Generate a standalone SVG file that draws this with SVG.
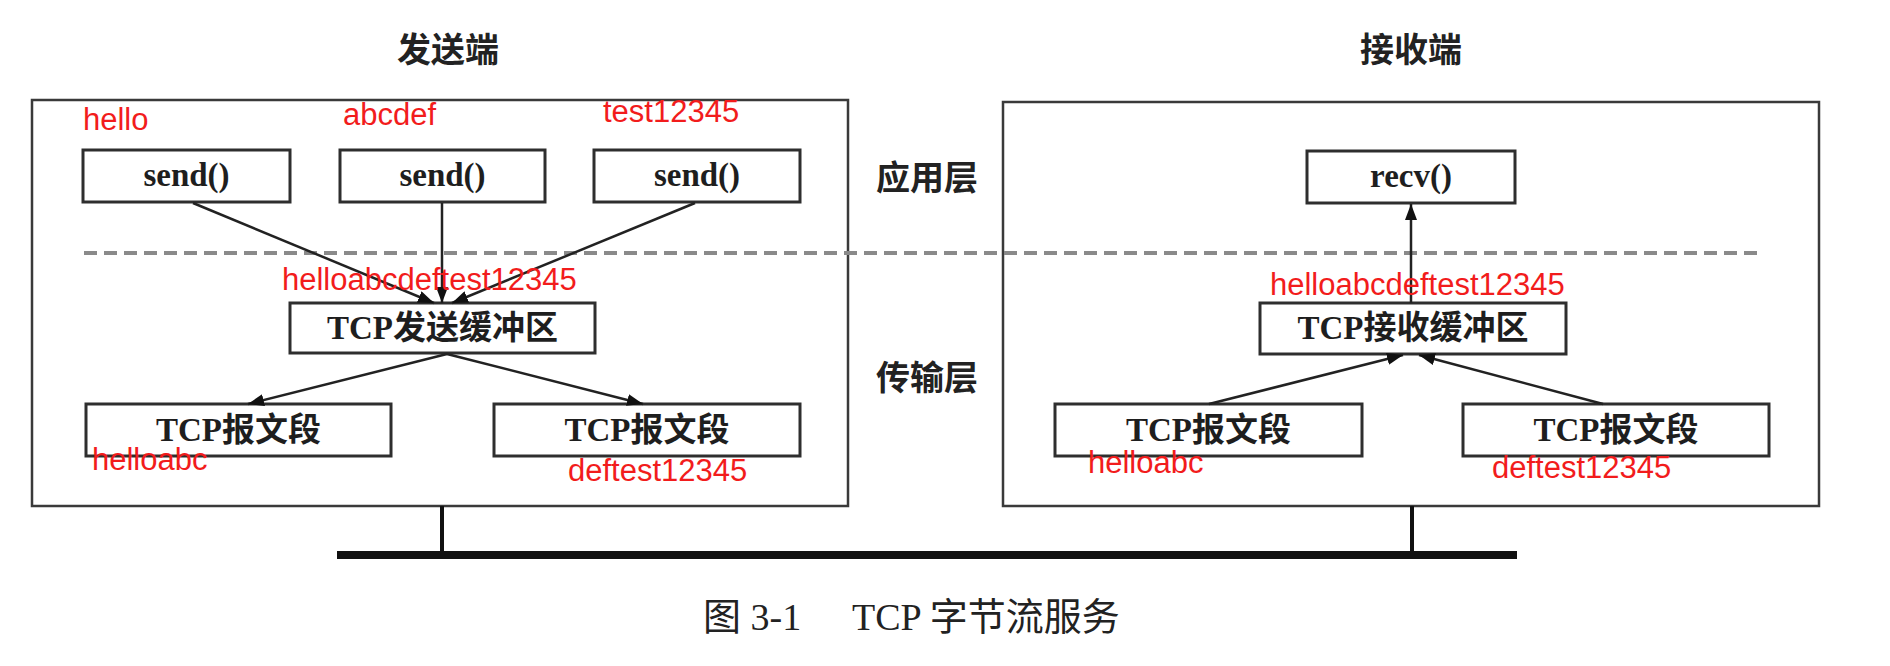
<svg xmlns="http://www.w3.org/2000/svg" width="1890" height="666" viewBox="0 0 1890 666">
<style>
.frame{fill:none;stroke:#3a3a3a;stroke-width:2.5}
.box{fill:#fff;stroke:#2e2e2e;stroke-width:3}
.lbl{font-family:"Liberation Serif","Noto Sans CJK SC",serif;font-weight:bold;fill:#1e1e1e;text-anchor:middle}
.title{font-family:"Liberation Serif","Noto Sans CJK SC",serif;font-weight:bold;font-size:34px;fill:#222;text-anchor:middle}
.cap{font-family:"Liberation Serif","Noto Sans CJK SC",serif;font-size:38px;fill:#222}
.red{font-family:"Liberation Sans",Arial,sans-serif;font-size:31px;fill:#f21c1c}
.conn{stroke:#222;stroke-width:2.5;fill:none}
.dash{stroke:#8a8a8a;stroke-width:4;stroke-dasharray:13 7;fill:none}
.bus{stroke:#111;fill:none}
</style>
<defs>
<marker id="ah" markerUnits="userSpaceOnUse" markerWidth="18" markerHeight="12" refX="16" refY="6" orient="auto">
<path d="M0,0 L16,6 L0,12 z" fill="#111"/>
</marker>
</defs>
<rect width="1890" height="666" fill="#fff"/>

<g id="sender-frame">
<rect class="frame" x="32" y="100" width="816" height="406"/>
<text class="title" x="448" y="62">发送端</text>
</g>
<g id="receiver-frame">
<rect class="frame" x="1003" y="102" width="816" height="404"/>
<text class="title" x="1411" y="62">接收端</text>
</g>

<g id="layer-labels">
<text class="title" x="927" y="190">应用层</text>
<text class="title" x="927" y="390">传输层</text>
<line class="dash" x1="84" y1="253" x2="1764" y2="253"/>
</g>

<g id="send1">
<rect class="box" x="83" y="150" width="207" height="52"/>
<text class="lbl" x="186.5" y="186" font-size="33">send()</text>
<text class="red" x="83" y="130">hello</text>
</g>
<g id="send2">
<rect class="box" x="340" y="150" width="205" height="52"/>
<text class="lbl" x="442.5" y="186" font-size="33">send()</text>
<text class="red" x="343" y="125">abcdef</text>
</g>
<g id="send3">
<rect class="box" x="594" y="150" width="206" height="52"/>
<text class="lbl" x="697" y="186" font-size="33">send()</text>
<text class="red" x="603" y="122">test12345</text>
</g>

<g id="send-buffer">
<rect class="box" x="290" y="303" width="305" height="50"/>
<text class="lbl" x="442.5" y="339" font-size="33">TCP发送缓冲区</text>
</g>

<g id="seg-left-1">
<rect class="box" x="86" y="404" width="305" height="52"/>
<text class="lbl" x="238.5" y="441" font-size="33">TCP报文段</text>
</g>
<g id="seg-left-2">
<rect class="box" x="494" y="404" width="306" height="52"/>
<text class="lbl" x="647" y="441" font-size="33">TCP报文段</text>
</g>

<g id="recv">
<rect class="box" x="1307" y="151" width="208" height="52"/>
<text class="lbl" x="1411" y="187" font-size="33">recv()</text>
</g>

<g id="recv-buffer">
<rect class="box" x="1260" y="303" width="306" height="51"/>
<text class="lbl" x="1413" y="339" font-size="33">TCP接收缓冲区</text>
</g>

<g id="seg-right-1">
<rect class="box" x="1055" y="404" width="307" height="52"/>
<text class="lbl" x="1208.5" y="441" font-size="33">TCP报文段</text>
</g>
<g id="seg-right-2">
<rect class="box" x="1463" y="404" width="306" height="52"/>
<text class="lbl" x="1616" y="441" font-size="33">TCP报文段</text>
</g>

<g id="connectors">
<line class="conn" x1="193" y1="203" x2="434" y2="303" marker-end="url(#ah)"/>
<line class="conn" x1="442" y1="203" x2="442" y2="303" marker-end="url(#ah)"/>
<line class="conn" x1="695" y1="203" x2="452" y2="303" marker-end="url(#ah)"/>
<line class="conn" x1="447" y1="354" x2="248" y2="404" marker-end="url(#ah)"/>
<line class="conn" x1="447" y1="354" x2="643" y2="404" marker-end="url(#ah)"/>
<line class="conn" x1="1209" y1="404" x2="1403" y2="355" marker-end="url(#ah)"/>
<line class="conn" x1="1603" y1="404" x2="1419" y2="355" marker-end="url(#ah)"/>
<line class="conn" x1="1411" y1="303" x2="1411" y2="204" marker-end="url(#ah)"/>
<line class="bus" x1="442" y1="506" x2="442" y2="555" stroke-width="4"/>
<line class="bus" x1="1412" y1="506" x2="1412" y2="555" stroke-width="4"/>
<line class="bus" x1="337" y1="555" x2="1517" y2="555" stroke-width="8"/>
</g>

<g id="data-labels">
<text class="red" x="282" y="290">helloabcdeftest12345</text>
<text class="red" x="1270" y="295">helloabcdeftest12345</text>
<text class="red" x="92" y="470">helloabc</text>
<text class="red" x="568" y="481">deftest12345</text>
<text class="red" x="1088" y="473">helloabc</text>
<text class="red" x="1492" y="478">deftest12345</text>
</g>

<g id="caption">
<text class="cap" x="703" y="630">图 3-1</text>
<text class="cap" x="852" y="630">TCP 字节流服务</text>
</g>
</svg>
